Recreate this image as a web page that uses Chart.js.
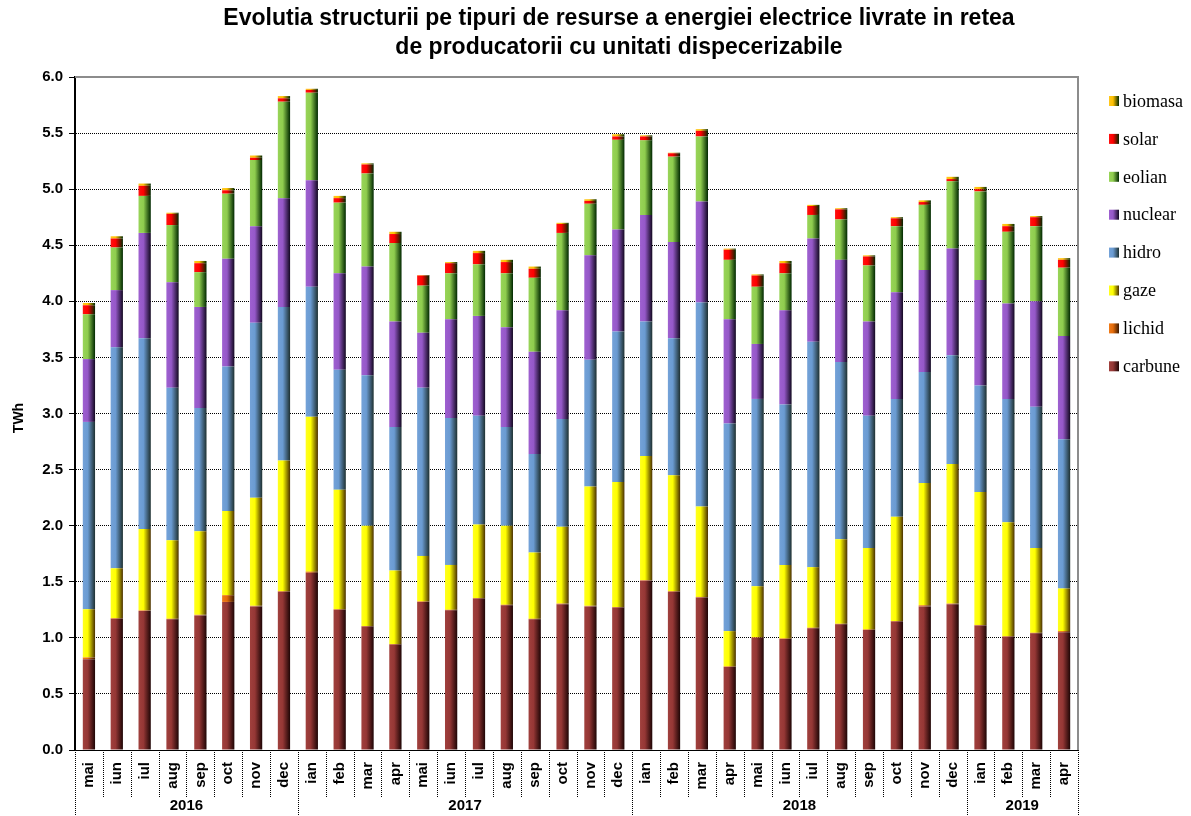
<!DOCTYPE html>
<html>
<head>
<meta charset="utf-8">
<script src="https://cdn.jsdelivr.net/npm/chart.js@4.4.1/dist/chart.umd.min.js"></script>
<style>
  html, body { margin: 0; padding: 0; background: #ffffff; }
  #wrap { width: 1191px; height: 816px; }
</style>
</head>
<body>
<div id="wrap"><canvas id="energyChart" width="1191" height="816"></canvas></div>
<script>
// ── data (TWh) ──
const months = ['mai','iun','iul','aug','sep','oct','nov','dec',
                'ian','feb','mar','apr','mai','iun','iul','aug','sep','oct','nov','dec',
                'ian','feb','mar','apr','mai','iun','iul','aug','sep','oct','nov','dec',
                'ian','feb','mar','apr'];
const yearLabels = ['2016', '2017', '2018', '2019'];
const yearSpans  = [8, 12, 12, 4];
const yTicks     = [0, 0.5, 1, 1.5, 2, 2.5, 3, 3.5, 4, 4.5, 5, 5.5, 6];

const carbune = [0.81,1.17,1.24,1.165,1.20,1.32,1.28,1.41,
                 1.58,1.25,1.10,0.94,1.32,1.245,1.35,1.29,1.165,1.30,1.28,1.27,
                 1.51,1.41,1.36,0.74,1.00,0.99,1.085,1.12,1.07,1.145,1.28,1.30,
                 1.11,1.01,1.04,1.05];
const lichid  = [0.015,0.005,0.005,0.005,0.005,0.06,0.005,0.005,
                 0.01,0.005,0.005,0.005,0.005,0.005,0.005,0.005,0.005,0.005,0.005,0.005,
                 0.005,0.005,0.005,0.005,0.005,0.005,0.005,0.005,0.005,0.005,0.01,0.005,
                 0.005,0.005,0.005,0.01];
const gaze    = [0.43,0.445,0.725,0.70,0.745,0.75,0.965,1.165,
                 1.38,1.065,0.895,0.655,0.405,0.40,0.655,0.705,0.59,0.685,1.065,1.115,
                 1.105,1.035,0.805,0.315,0.455,0.655,0.54,0.755,0.725,0.93,1.09,1.245,
                 1.185,1.015,0.755,0.38];
const hidro   = [1.67,1.97,1.70,1.36,1.10,1.29,1.56,1.37,
                 1.16,1.07,1.34,1.28,1.50,1.31,0.97,0.88,0.88,0.96,1.13,1.34,
                 1.20,1.22,1.82,1.85,1.67,1.43,2.01,1.58,1.18,1.05,0.99,0.97,
                 0.95,1.10,1.26,1.33];
const nuclear = [0.56,0.51,0.94,0.94,0.90,0.96,0.86,0.97,
                 0.95,0.86,0.97,0.94,0.49,0.88,0.89,0.89,0.91,0.97,0.93,0.91,
                 0.95,0.86,0.90,0.93,0.49,0.84,0.92,0.91,0.84,0.95,0.91,0.95,
                 0.94,0.85,0.94,0.92];
const eolian  = [0.40,0.38,0.33,0.51,0.31,0.58,0.59,0.86,
                 0.78,0.63,0.83,0.70,0.42,0.41,0.46,0.48,0.66,0.69,0.46,0.80,
                 0.665,0.76,0.58,0.53,0.51,0.33,0.21,0.36,0.50,0.59,0.58,0.60,
                 0.79,0.64,0.67,0.61];
const solar   = [0.08,0.08,0.09,0.10,0.08,0.03,0.02,0.03,
                 0.025,0.04,0.08,0.08,0.09,0.09,0.10,0.10,0.08,0.08,0.025,0.03,
                 0.035,0.03,0.05,0.09,0.10,0.09,0.08,0.09,0.08,0.07,0.025,0.02,
                 0.02,0.05,0.08,0.07];
const biomasa = [0.02,0.02,0.02,0.01,0.02,0.02,0.02,0.02,
                 0.01,0.02,0.01,0.02,0.005,0.01,0.02,0.02,0.02,0.01,0.015,0.02,
                 0.01,0.005,0.015,0.01,0.01,0.02,0.01,0.01,0.01,0.01,0.015,0.02,
                 0.02,0.02,0.01,0.015];

const BAR_PCT = 0.44;
const AXIS_FONT = "'Liberation Sans', Arial, sans-serif";

// light, base, dark colours for the shaded bars
const series = [
    { label: 'carbune', data: carbune, c: ['#a0403d', '#953735', '#1e0505'] },
    { label: 'lichid',  data: lichid,  c: ['#f07a18', '#e46c0a', '#3a1800'] },
    { label: 'gaze',    data: gaze,    c: ['#ffff20', '#ffff00', '#4a3000'] },
    { label: 'hidro',   data: hidro,   c: ['#74a2d8', '#6a9bd2', '#1e3030'] },
    { label: 'nuclear', data: nuclear, c: ['#9e60d0', '#9558c8', '#120820'] },
    { label: 'eolian',  data: eolian,  c: ['#98d458', '#8fcd4e', '#002800'] },
    { label: 'solar',   data: solar,   c: ['#ff1010', '#ff0000', '#002800'] },
    { label: 'biomasa', data: biomasa, c: ['#ffc820', '#ffc000', '#002800'] },
];

function shade(ctx2d, x0, x1, c) {
    const g = ctx2d.createLinearGradient(x0, 0, x1, 0);
    g.addColorStop(0, c[0]);
    g.addColorStop(0.4, c[1]);
    g.addColorStop(1, c[2]);
    return g;
}

function barFill(c) {
    return function (ctx) {
        const chart = ctx.chart;
        const xs = chart.scales.x;
        if (!xs || !chart.chartArea || ctx.type !== 'data') return c[1];
        const cx = xs.getPixelForValue(ctx.dataIndex);
        const w = xs.width / months.length * BAR_PCT;
        return shade(chart.ctx, cx - w / 2, cx + w / 2, c);
    };
}

// ── extra drawing: title, frame, two-level x axis, legend, axis title ──
const decorPlugin = {
    id: 'decor',
    afterDraw(chart) {
        const { ctx, chartArea: a, scales: { x } } = chart;
        const catW = x.width / months.length;
        ctx.save();

        // title
        ctx.fillStyle = '#000';
        ctx.font = "bold 23px " + AXIS_FONT;
        ctx.textAlign = 'center';
        ctx.textBaseline = 'middle';
        ctx.fillText('Evolutia structurii pe tipuri de resurse a energiei electrice livrate in retea', 619, 19);
        ctx.fillText('de producatorii cu unitati dispecerizabile', 619, 48);

        // plot frame (top / right)
        ctx.strokeStyle = '#8c8c8c';
        ctx.lineWidth = 2;
        ctx.beginPath();
        ctx.moveTo(a.left, a.top);
        ctx.lineTo(a.right, a.top);
        ctx.lineTo(a.right, a.bottom);
        ctx.stroke();

        // category separators + years
        ctx.strokeStyle = '#000';
        ctx.lineWidth = 1;
        ctx.setLineDash([1, 1]);
        const yearEnds = [];
        let acc = 0;
        yearSpans.forEach(n => { acc += n; yearEnds.push(acc); });
        for (let i = 0; i <= months.length; i++) {
            const px = Math.round(a.left + i * catW) + 0.5;
            const isYear = i === 0 || yearEnds.includes(i);
            ctx.beginPath();
            ctx.moveTo(px, a.bottom);
            ctx.lineTo(px, isYear ? 816 : 797);
            ctx.stroke();
        }
        ctx.setLineDash([]);
        ctx.font = "bold 15px " + AXIS_FONT;
        let start = 0;
        yearLabels.forEach((lab, k) => {
            const mid = a.left + (start + yearSpans[k] / 2) * catW;
            ctx.fillText(lab, mid, 806);
            start += yearSpans[k];
        });

        // y axis title
        ctx.save();
        ctx.translate(19, 418);
        ctx.rotate(-Math.PI / 2);
        ctx.font = "bold 14px " + AXIS_FONT;
        ctx.fillText('TWh', 0, 0);
        ctx.restore();

        // legend (reverse order, top to bottom)
        ctx.font = "18px 'Liberation Serif', 'Times New Roman', serif";
        ctx.textAlign = 'left';
        const rev = series.slice().reverse();
        rev.forEach((s, i) => {
            const cy = 101 + i * 37.9;
            ctx.fillStyle = shade(ctx, 1109, 1119, s.c);
            ctx.fillRect(1109, cy - 5, 10, 10);
            ctx.fillStyle = '#000';
            ctx.fillText(s.label, 1123, cy + 1);
        });

        ctx.restore();
    }
};

new Chart(document.getElementById('energyChart'), {
    type: 'bar',
    data: {
        labels: months,
        datasets: series.map(s => ({
            label: s.label,
            data: s.data,
            stack: 'total',
            backgroundColor: barFill(s.c),
            borderWidth: 0,
            categoryPercentage: 1,
            barPercentage: BAR_PCT,
        }))
    },
    options: {
        responsive: false,
        animation: false,
        devicePixelRatio: 1,
        layout: { padding: { top: 77, right: 113, left: 0, bottom: 0 } },
        plugins: {
            legend: { display: false },
            title: { display: false },
            tooltip: { enabled: false },
        },
        scales: {
            x: {
                stacked: true,
                grid: { display: false },
                border: { display: true, color: '#000', width: 1 },
                ticks: {
                    autoSkip: false,
                    minRotation: 90,
                    maxRotation: 90,
                    padding: 4,
                    color: '#000',
                    font: { family: AXIS_FONT, size: 15, weight: 'bold' }
                },
                afterFit: scale => { scale.height = 66; }
            },
            y: {
                stacked: true,
                min: 0,
                max: 6,
                afterBuildTicks: scale => { scale.ticks = yTicks.map(v => ({ value: v })); },
                grid: { color: '#000', lineWidth: 1, tickLength: 6, tickBorderDash: [] },
                border: { display: true, color: '#000', width: 2, dash: [1, 1] },
                ticks: {
                    padding: 6,
                    color: '#000',
                    font: { family: AXIS_FONT, size: 15, weight: 'bold' },
                    callback: v => Number(v).toFixed(1)
                },
                afterFit: scale => { scale.width = 75; }
            }
        }
    },
    plugins: [decorPlugin]
});
</script>
</body>
</html>
